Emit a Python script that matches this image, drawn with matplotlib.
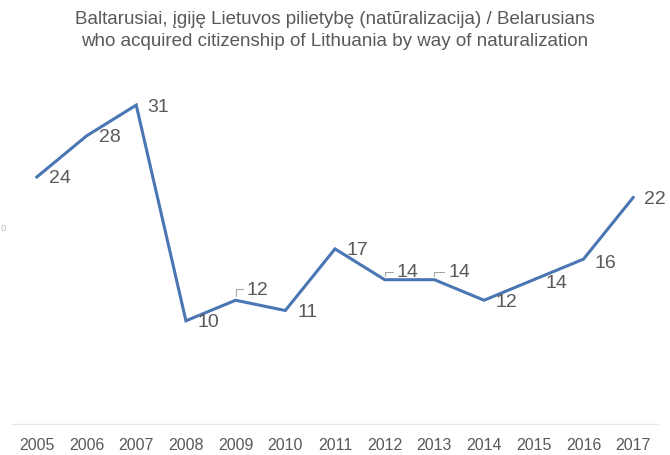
import matplotlib
matplotlib.use("Agg")
import matplotlib.pyplot as plt

plt.rcParams['font.family'] = ['Liberation Sans', 'DejaVu Sans']

# Data
years = ['2005', '2006', '2007', '2008', '2009', '2010', '2011',
         '2012', '2013', '2014', '2015', '2016', '2017']
values = [24, 28, 31, 10, 12, 11, 17, 14, 14, 12, 14, 16, 22]

# label offsets in pixels (dx, dy), leader lines where the label was moved up
label_offsets = [(23, -1), (23, -1), (22, -1), (22, -1), (22, 11), (22, -1), (22, -1),
                 (23, 8), (25, 8), (22, -1), (23, -3), (22, -3), (22, -1)]
leaders = [False, False, False, False, True, False, False,
           True, True, False, False, False, False]

text_color = '#595959'
line_color = '#4a76b3'

fig = plt.figure(figsize=(6.7, 4.56), dpi=100)
ax = fig.add_axes([12 / 670, 1 - 424.5 / 456, 646 / 670, (424.5 - 65) / 456])

x = list(range(len(years)))
ax.plot(x, values, color=line_color, lw=2.2, solid_joinstyle='miter')

px = 72 / 100  # pixels -> points
for i, v in enumerate(values):
    dx, dy = label_offsets[i]
    if leaders[i]:
        ax.annotate(str(v), (i, v), xytext=(dx * px, dy * px), textcoords='offset points',
                    ha='center', va='center', fontsize=14, color=text_color,
                    arrowprops=dict(arrowstyle='-', color='#a6a6a6', lw=0.8,
                                    connectionstyle='angle,angleA=0,angleB=90,rad=0',
                                    shrinkA=1, shrinkB=3))
    else:
        ax.annotate(str(v), (i, v), xytext=(dx * px, dy * px), textcoords='offset points',
                    ha='center', va='center', fontsize=14, color=text_color)

ax.set_xlim(-0.5, len(years) - 0.5)
ax.set_ylim(0, 35)
ax.set_xticks(x)
ax.set_xticklabels(years, fontsize=11.5, color=text_color)
ax.set_yticks([])
ax.tick_params(axis='x', length=0, pad=10)
for s in ['top', 'right', 'left']:
    ax.spines[s].set_visible(False)
ax.spines['bottom'].set_color('#e6e6e6')
ax.spines['bottom'].set_linewidth(1)

fig.text(0.5, 1 - 19 / 456, 'Baltarusiai, įgiję Lietuvos pilietybę (natūralizacija) / Belarusians',
         ha='center', va='center', fontsize=13.5, color=text_color)
fig.text(0.5, 1 - 42 / 456, 'who acquired citizenship of Lithuania by way of naturalization',
         ha='center', va='center', fontsize=13.5, color=text_color)
fig.text(3 / 670, 1 - 228 / 456, 'o', ha='center', va='center', fontsize=7, color='#bfbfbf')

fig.savefig('out.png', dpi=100)
